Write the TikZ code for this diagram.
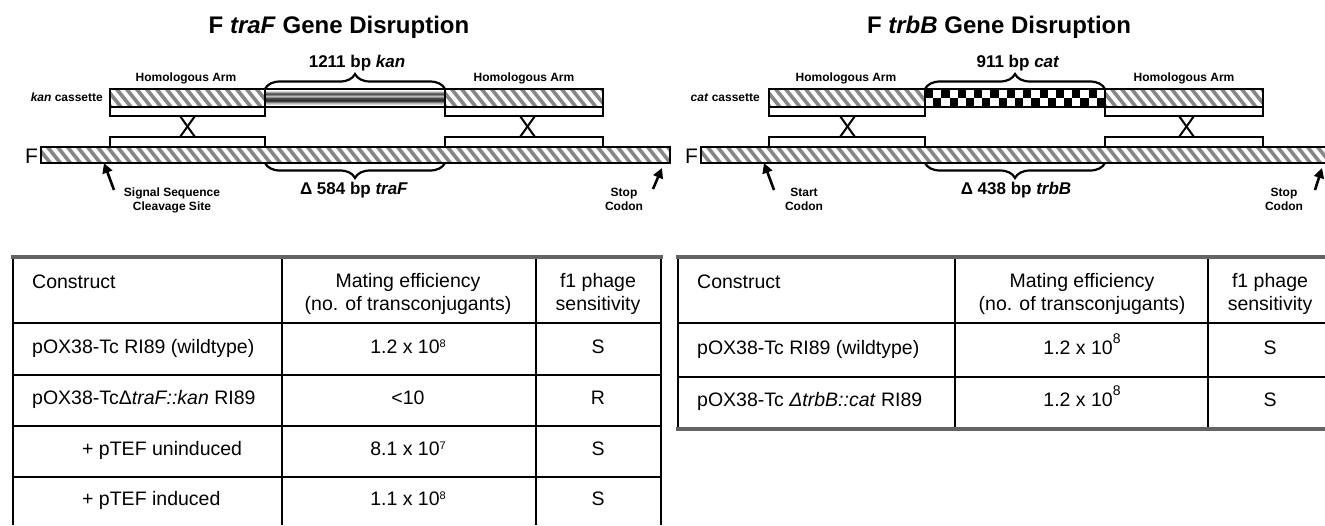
\documentclass[tikz,border=0pt]{standalone}
\usepackage{fontspec}
\setmainfont{Liberation Sans}
\usetikzlibrary{arrows.meta,decorations.pathreplacing}
\definecolor{hatchgray}{RGB}{135,135,135}
\definecolor{rulegray}{RGB}{100,100,100}
\pgfdeclareverticalshading{kanshade}{100bp}{color(0bp)=(gray!30); color(25bp)=(gray!30); color(30bp)=(white); color(36bp)=(gray!55); color(43bp)=(black!85); color(50bp)=(black!70); color(55bp)=(gray!45); color(62bp)=(black!75); color(68bp)=(gray!45); color(72bp)=(white); color(75bp)=(gray!25); color(100bp)=(gray!25)}
\newcommand{\hatchbox}[4]{%
  \begin{scope}
    \clip (#1,#2) rectangle (#3,#4);
    \pgfmathsetmacro\hsA{#1-25}\pgfmathsetmacro\hsB{#1-15}
    \foreach \xx in {\hsA,\hsB,...,#3}{\draw[hatchline] (\xx,#2-2) -- ++({0.8*(#4-#2+4)},#4-#2+4);}
  \end{scope}}
\newcommand{\lsup}[1]{\raisebox{5.5pt}{\fontsize{11}{11}\selectfont #1}}
\newcommand{\rsup}[1]{\raisebox{11pt}{\fontsize{14}{14}\selectfont #1}}
\tikzset{
 hatchline/.style={line width=3.6pt, hatchgray},
 boxline/.style={line width=2pt, black},
 ptr/.style={line width=2.6pt, -{Triangle[length=10pt,width=10pt]}},
 brc/.style={line width=2.2pt, decorate, decoration={brace, amplitude=15pt}},
 ttl/.style={font=\fontsize{24}{28}\selectfont\bfseries, anchor=base, inner sep=0},
 big/.style={font=\fontsize{17}{20}\selectfont\bfseries, anchor=base, inner sep=0},
 sml/.style={font=\fontsize{12}{14}\selectfont\bfseries, anchor=base, inner sep=0},
 flab/.style={font=\fontsize{21}{24}\selectfont, anchor=base west, inner sep=0},
 tx/.style={font=\fontsize{19.5}{23}\selectfont, anchor=base, inner sep=0},
 txl/.style={tx, anchor=base west},
 tline/.style={line width=2pt},
 trule/.style={line width=4pt, rulegray},
}
\begin{document}
\begin{tikzpicture}[x=1pt,y=-1pt]
\fill[white] (0,0) rectangle (1325,525);
\useasboundingbox (0,0) rectangle (1325,525);

% ================= LEFT PANEL =================
\node[ttl] (title1) at (339,33) {F \textit{traF} Gene Disruption};
\node[big] (kanlab) at (357,67) {1211 bp \textit{kan}};
\node[sml] (ha1) at (186,81) {Homologous Arm};
\node[sml] (ha2) at (524,81) {Homologous Arm};
\node[sml, anchor=base east] (kc) at (103,101) {\textit{kan} cassette};
% cassette
\hatchbox{110}{89}{265}{107}
\draw[boxline] (110,89) rectangle (265,107);
\shade[shading=kanshade] (265,89) rectangle (445,107);
\draw[boxline] (265,89) rectangle (445,107);
\hatchbox{445}{89}{603}{107}
\draw[boxline] (445,89) rectangle (603,107);
\draw[boxline, fill=white] (110,107) rectangle (265,116);
\draw[boxline, fill=white] (445,107) rectangle (603,116);
\draw[brc] (265,89) -- (445,89);
% crossovers
\draw[boxline] (180,116) -- (195,137);
\draw[boxline] (195,116) -- (180,137);
\draw[boxline] (520,116) -- (535,137);
\draw[boxline] (535,116) -- (520,137);
% lower strips
\draw[boxline, fill=white] (110,137) rectangle (265,147);
\draw[boxline, fill=white] (445,137) rectangle (603,147);
% F bar
\hatchbox{41}{147}{670}{163}
\draw[boxline] (41,147) rectangle (670,163);
\node[flab] (F1) at (25,163) {F};
\draw[brc] (445,163) -- (265,163);
\node[big] (del1) at (354,194) {Δ 584 bp \textit{traF}};
\node[sml] (ss1) at (172,196) {Signal Sequence};
\node[sml] (ss2) at (172,210) {Cleavage Site};
\node[sml] (st1) at (624,196) {Stop};
\node[sml] (st2) at (624,210) {Codon};
\coordinate (a1tail) at (114,190); \coordinate (a1tip) at (104,163);
\coordinate (a2tail) at (653,189); \coordinate (a2tip) at (662,168);
\draw[ptr] (a1tail) -- (a1tip);
\draw[ptr] (a2tail) -- (a2tip);

% ================= RIGHT PANEL =================
\begin{scope}[xshift=660pt]
\node[ttl] (title2) at (339,33) {F \textit{trbB} Gene Disruption};
\node[big] (catlab) at (358,67) {911 bp \textit{cat}};
\node[sml] (ha3) at (186,81) {Homologous Arm};
\node[sml] (ha4) at (524,81) {Homologous Arm};
\node[sml, anchor=base east] (cc) at (100,101) {\textit{cat} cassette};
\hatchbox{109}{89}{265}{107}
\draw[boxline] (109,89) rectangle (265,107);
\fill[white] (265,89) rectangle (445,107);
\foreach \i in {0,...,21}{
  \pgfmathsetmacro\cx{265+\i*180/22}
  \ifodd\i \fill[black] (\cx,98) rectangle ++(180/22,8); \else \fill[black] (\cx,90) rectangle ++(180/22,8); \fi
}
\draw[boxline] (265,89) rectangle (445,107);
\hatchbox{445}{89}{603}{107}
\draw[boxline] (445,89) rectangle (603,107);
\draw[boxline, fill=white] (109,107) rectangle (265,116);
\draw[boxline, fill=white] (445,107) rectangle (603,116);
\draw[brc] (265,89) -- (445,89);
\draw[boxline] (180,116) -- (195,137);
\draw[boxline] (195,116) -- (180,137);
\draw[boxline] (519,116) -- (534,137);
\draw[boxline] (534,116) -- (519,137);
\draw[boxline, fill=white] (109,137) rectangle (265,147);
\draw[boxline, fill=white] (445,137) rectangle (603,147);
\hatchbox{41}{147}{670}{163}
\draw[boxline] (665,147) -- (41,147) -- (41,163) -- (665,163);
\node[flab] (F2) at (25,163) {F};
\draw[brc] (445,163) -- (265,163);
\node[big] (del2) at (356,194) {Δ 438 bp \textit{trbB}};
\node[sml] (sc1) at (144,196) {Start};
\node[sml] (sc2) at (144,210) {Codon};
\node[sml] (st3) at (624,196) {Stop};
\node[sml] (st4) at (624,210) {Codon};
\coordinate (a3tail) at (114,190); \coordinate (a3tip) at (104,163);
\coordinate (a4tail) at (655,190); \coordinate (a4tip) at (662,168);
\draw[ptr] (a3tail) -- (a3tip);
\draw[ptr] (a4tail) -- (a4tip);
\end{scope}

% ================= LEFT TABLE =================
\foreach \xx in {13,282,536,661}{\draw[tline] (\xx,257) -- (\xx,525);}
\foreach \yy in {323,375,426,477}{\draw[tline] (13,\yy) -- (661,\yy);}
\draw[trule] (11,257) -- (663,257);
\node[txl] (lc) at (32,288) {Construct};
\node[tx] (lm1) at (408,287) {Mating efficiency};
\node[tx] (lm2) at (408,310) {(no. of transconjugants)};
\node[tx] (lf1) at (598,287) {f1 phage};
\node[tx] (lf2) at (598,310) {sensitivity};
\node[txl] (l1a) at (32,353) {pOX38-Tc RI89 (wildtype)};
\node[tx] (l1b) at (408,353) {1.2 x 10\lsup{8}};
\node[tx] (l1c) at (598,353) {S};
\node[txl] (l2a) at (32,404) {pOX38-TcΔ\textit{traF::kan} RI89};
\node[tx] (l2b) at (408,404) {<10};
\node[tx] (l2c) at (598,404) {R};
\node[txl] (l3a) at (82,455) {+ pTEF uninduced};
\node[tx] (l3b) at (408,455) {8.1 x 10\lsup{7}};
\node[tx] (l3c) at (598,455) {S};
\node[txl] (l4a) at (82,505) {+ pTEF induced};
\node[tx] (l4b) at (408,505) {1.1 x 10\lsup{8}};
\node[tx] (l4c) at (598,505) {S};

% ================= RIGHT TABLE =================
\foreach \xx in {678,955,1208}{\draw[tline] (\xx,257) -- (\xx,429);}
\foreach \yy in {323,377}{\draw[tline] (678,\yy) -- (1325,\yy);}
\draw[trule] (676,257) -- (1325,257);
\draw[trule] (676,429) -- (1325,429);
\node[txl] (rc) at (697,288) {Construct};
\node[tx] (rm1) at (1082,287) {Mating efficiency};
\node[tx] (rm2) at (1082,310) {(no. of transconjugants)};
\node[tx] (rf1) at (1270,287) {f1 phage};
\node[tx] (rf2) at (1270,310) {sensitivity};
\node[txl] (r1a) at (697,354) {pOX38-Tc RI89 (wildtype)};
\node[tx] (r1b) at (1082,354) {1.2 x 10\rsup{8}};
\node[tx] (r1c) at (1270,354) {S};
\node[txl] (r2a) at (697,406) {pOX38-Tc \textit{ΔtrbB::cat} RI89};
\node[tx] (r2b) at (1082,406) {1.2 x 10\rsup{8}};
\node[tx] (r2c) at (1270,406) {S};
\end{tikzpicture}
\end{document}
